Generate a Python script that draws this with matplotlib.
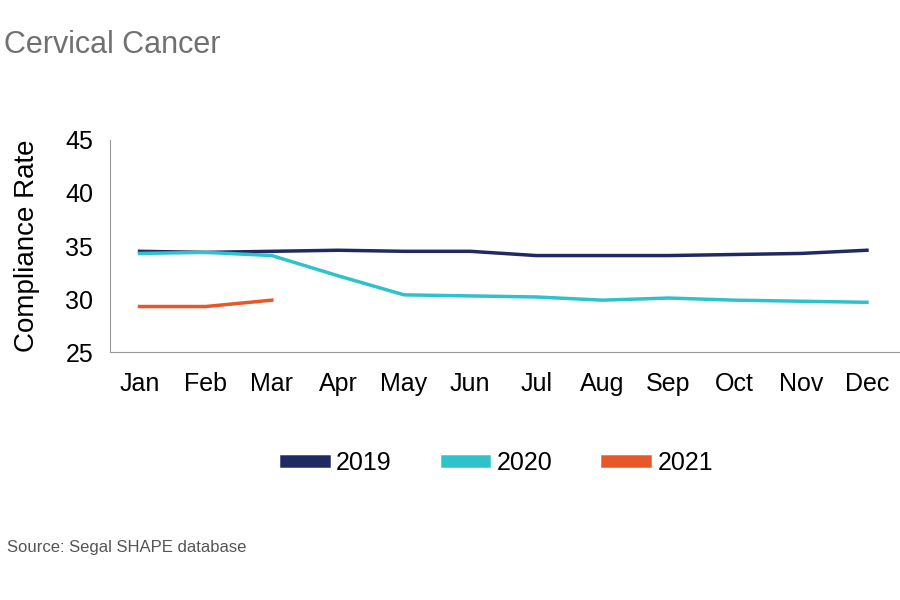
import matplotlib.pyplot as plt
from matplotlib.lines import Line2D

plt.rcParams['font.family'] = ['Liberation Sans', 'DejaVu Sans']

months = ['Jan', 'Feb', 'Mar', 'Apr', 'May', 'Jun', 'Jul', 'Aug', 'Sep', 'Oct', 'Nov', 'Dec']
rate_2019 = [34.5, 34.4, 34.5, 34.6, 34.5, 34.5, 34.1, 34.1, 34.1, 34.2, 34.3, 34.6]
rate_2020 = [34.3, 34.4, 34.1, 32.2, 30.4, 30.3, 30.2, 29.9, 30.1, 29.9, 29.8, 29.7]
rate_2021 = [29.3, 29.3, 29.9]

fig = plt.figure(figsize=(9, 6), dpi=100)
ax = fig.add_axes([0.122, 0.413, 0.878, 0.354])

x = list(range(len(months)))
ax.plot(x, rate_2019, color='#1f2a63', lw=2.5, label='2019')
ax.plot(x, rate_2020, color='#2ec3cb', lw=2.5, label='2020')
ax.plot(x[:len(rate_2021)], rate_2021, color='#e8572a', lw=2.5, label='2021')

ax.set_xlim(-0.45, 11.5)
ax.set_ylim(25, 45)
ax.set_yticks([25, 30, 35, 40, 45])
ax.set_xticks(x)
ax.set_xticklabels(months)
ax.tick_params(length=0, labelsize=18, pad=14)
ax.tick_params(axis='y', pad=12)
for s in ['top', 'right']:
    ax.spines[s].set_visible(False)
for s in ['left', 'bottom']:
    ax.spines[s].set_color('#999999')
ax.set_ylabel('Compliance Rate', fontsize=20, labelpad=18)

handles = [Line2D([], [], color=c, lw=9) for c in ['#1f2a63', '#2ec3cb', '#e8572a']]
fig.legend(handles, ['2019', '2020', '2021'], loc='center', bbox_to_anchor=(0.555, 0.228),
           ncol=3, frameon=False, fontsize=18, handlelength=1.5, handletextpad=0.5,
           columnspacing=2.2)

fig.text(0.005, 0.925, 'Cervical Cancer', fontsize=22, color='#707070', va='center')
fig.text(0.008, 0.087, 'Source: Segal SHAPE database', fontsize=12, color='#555555', va='center')

fig.savefig('out.png')
